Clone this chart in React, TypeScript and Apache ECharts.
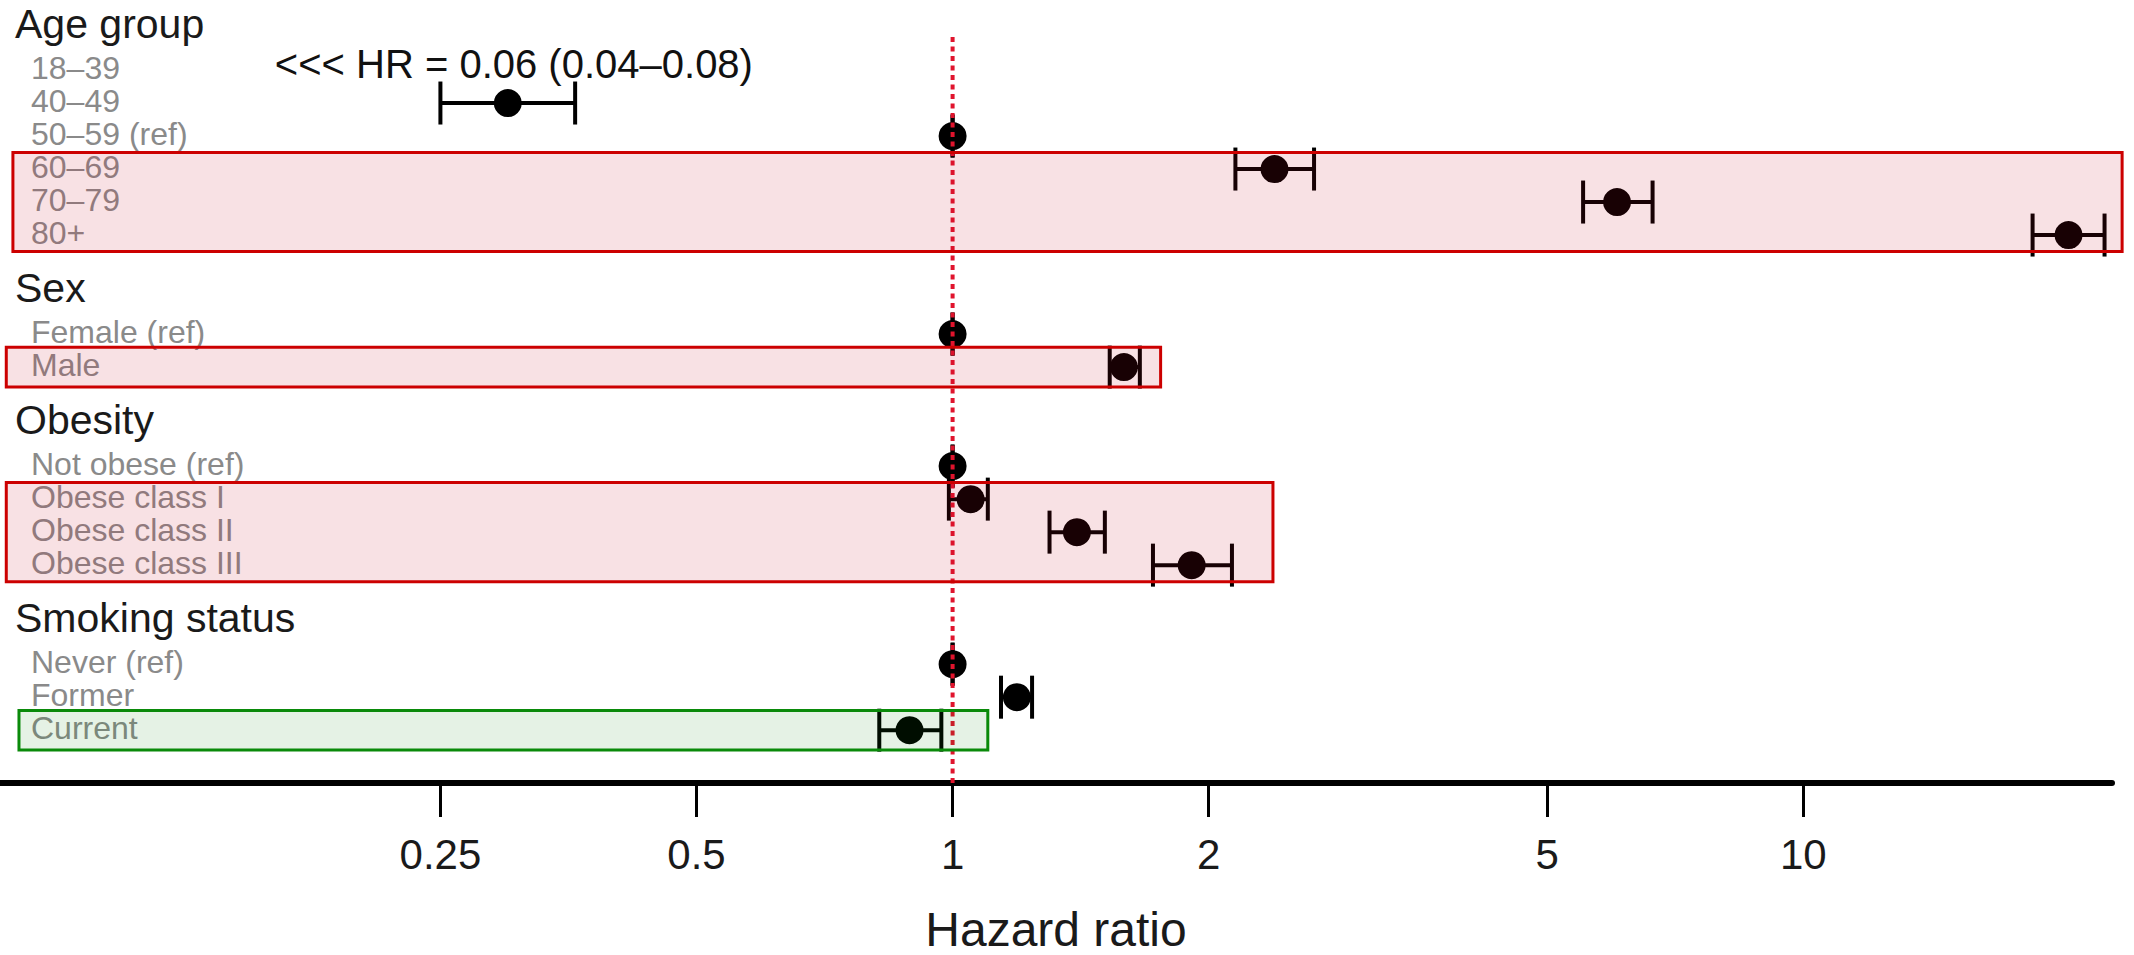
import React, { useEffect, useRef } from "react";
import * as echarts from "echarts";

// ---- Data ----
const groupHeaders = ["Age group", "Sex", "Obesity", "Smoking status"];
const headerRows = [-1.4, 6.6, 10.6, 16.6];

const categories = [
  "18–39", "40–49", "50–59 (ref)", "60–69", "70–79", "80+",
  "Female (ref)", "Male",
  "Not obese (ref)", "Obese class I", "Obese class II", "Obese class III",
  "Never (ref)", "Former", "Current",
];
const categoryRows = [0, 1, 2, 3, 4, 5, 8, 9, 12, 13, 14, 15, 18, 19, 20];

// hazard ratio estimates and 95% CI (null = off the scale, shown as text)
const hrEstimate = [null, 0.30, 1, 2.39, 6.04, 20.5, 1, 1.59, 1, 1.05, 1.40, 1.91, 1, 1.19, 0.89];
const hrLower = [null, 0.25, 1, 2.15, 5.51, 18.6, 1, 1.53, 1, 0.99, 1.30, 1.72, 1, 1.14, 0.82];
const hrUpper = [null, 0.36, 1, 2.66, 6.65, 22.6, 1, 1.66, 1, 1.10, 1.51, 2.13, 1, 1.24, 0.97];

const offscaleText = "<<< HR = 0.06 (0.04–0.08)";
const offscaleRow = 0;
const offscaleAnchorHR = 0.305;

const tickValues = [0.25, 0.5, 1, 2, 5, 10];
const tickLabels = ["0.25", "0.5", "1", "2", "5", "10"];
const axisRangeHR = [0.0759, 23.06];
const rowRange = [-2, 21.6];

const referenceHR = 1;
const referenceRows = [-1, 21.6];

// highlight boxes
const boxLowHR = [0.0786, 0.0772, 0.0772, 0.0799];
const boxHighHR = [23.7, 1.756, 2.38, 1.1];
const boxTopRow = [2.5, 8.4, 12.5, 19.4];
const boxBottomRow = [5.5, 9.6, 15.5, 20.6];
const boxKind = ["risk", "risk", "risk", "protective"];

const FONT = "'Liberation Sans', Arial, Helvetica, sans-serif";
const lg = (v: number) => Math.log10(v);

export default function App() {
  const ref = useRef<HTMLDivElement>(null);

  useEffect(() => {
    if (!ref.current) return;
    const chart = echarts.init(ref.current, undefined, { renderer: "svg" });

    const barData: number[][] = [];
    hrEstimate.forEach((v, i) => {
      if (v == null) return;
      barData.push([lg(v), lg(hrLower[i] as number), lg(hrUpper[i] as number), categoryRows[i]]);
    });

    const boxData = boxLowHR.map((lo, i) => [lg(lo), lg(boxHighHR[i]), boxTopRow[i], boxBottomRow[i]]);

    const option: any = {
      animation: false,
      backgroundColor: "#ffffff",
      grid: { left: 0, right: 22, top: 4, bottom: 172, outerBoundsMode: "none" },
      xAxis: {
        type: "value",
        min: lg(axisRangeHR[0]),
        max: lg(axisRangeHR[1]),
        splitLine: { show: false },
        axisLine: { show: true, onZero: false, lineStyle: { color: "#000", width: 6 } },
        axisTick: {
          show: true,
          customValues: tickValues.map(lg),
          length: 34,
          lineStyle: { color: "#000", width: 3 },
        },
        axisLabel: {
          customValues: tickValues.map(lg),
          formatter: (v: number) => {
            const idx = tickValues.findIndex((t) => Math.abs(lg(t) - v) < 1e-6);
            return idx >= 0 ? tickLabels[idx] : "";
          },
          fontSize: 42,
          color: "#1a1a1a",
          fontFamily: FONT,
          margin: 50,
        },
        name: "Hazard ratio",
        nameLocation: "middle",
        nameGap: 123,
        nameTextStyle: { fontSize: 48, lineHeight: 46, color: "#1a1a1a", fontFamily: FONT },
      },
      yAxis: {
        type: "value",
        inverse: true,
        min: rowRange[0],
        max: rowRange[1],
        show: false,
      },
      series: [
        // group headers
        {
          type: "custom",
          z: 1,
          silent: true,
          data: headerRows.map((r) => [0, r]),
          encode: { x: 0, y: 1 },
          renderItem: (params: any, api: any) => {
            const y = api.coord([0, api.value(1)])[1];
            return {
              type: "text",
              x: params.coordSys.x + 15,
              y,
              style: {
                text: groupHeaders[params.dataIndex],
                fontSize: 41,
                lineHeight: 40,
                fontFamily: FONT,
                fill: "#1a1a1a",
                align: "left",
                verticalAlign: "middle",
              },
            };
          },
        },
        // category labels
        {
          type: "custom",
          z: 1,
          silent: true,
          data: categoryRows.map((r) => [0, r]),
          encode: { x: 0, y: 1 },
          renderItem: (params: any, api: any) => {
            const y = api.coord([0, api.value(1)])[1];
            return {
              type: "text",
              x: params.coordSys.x + 31,
              y: y - 2,
              style: {
                text: categories[params.dataIndex],
                fontSize: 32,
                lineHeight: 31,
                fontFamily: FONT,
                fill: "#8a8a8a",
                align: "left",
                verticalAlign: "middle",
              },
            };
          },
        },
        // off-scale annotation
        {
          type: "custom",
          z: 1,
          silent: true,
          data: [[lg(offscaleAnchorHR), offscaleRow]],
          encode: { x: 0, y: 1 },
          renderItem: (params: any, api: any) => {
            const p = api.coord([api.value(0), api.value(1)]);
            return {
              type: "text",
              x: p[0],
              y: p[1] - 6,
              style: {
                text: offscaleText,
                fontSize: 40,
                lineHeight: 34,
                fontFamily: FONT,
                fill: "#111",
                align: "center",
                verticalAlign: "middle",
              },
            };
          },
        },
        // error bars + points
        {
          type: "custom",
          z: 2,
          silent: true,
          data: barData,
          encode: { x: [0, 1, 2], y: 3 },
          renderItem: (params: any, api: any) => {
            const row = api.value(3);
            const c = api.coord([api.value(0), row]);
            const lo = api.coord([api.value(1), row]);
            const hi = api.coord([api.value(2), row]);
            const half = 21.5;
            const ls = { stroke: "#000", lineWidth: 4 };
            return {
              type: "group",
              children: [
                { type: "line", shape: { x1: lo[0], y1: c[1], x2: hi[0], y2: c[1] }, style: ls },
                { type: "line", shape: { x1: lo[0], y1: c[1] - half, x2: lo[0], y2: c[1] + half }, style: ls },
                { type: "line", shape: { x1: hi[0], y1: c[1] - half, x2: hi[0], y2: c[1] + half }, style: ls },
                { type: "circle", shape: { cx: c[0], cy: c[1], r: 14 }, style: { fill: "#000" } },
              ],
            };
          },
        },
        // reference line at HR = 1
        {
          type: "custom",
          z: 3,
          silent: true,
          data: [[lg(referenceHR), referenceRows[0], referenceRows[1]]],
          encode: { x: 0, y: [1, 2] },
          renderItem: (params: any, api: any) => {
            const a = api.coord([api.value(0), api.value(1)]);
            const b = api.coord([api.value(0), api.value(2)]);
            return {
              type: "line",
              shape: { x1: a[0], y1: a[1], x2: b[0], y2: b[1] },
              style: { stroke: "#e0142d", lineWidth: 4, lineDash: [5, 4.5] },
            };
          },
        },
        // highlight boxes
        {
          type: "custom",
          z: 4,
          silent: true,
          clip: false,
          data: boxData,
          encode: { x: [0, 1], y: [2, 3] },
          renderItem: (params: any, api: any) => {
            const p1 = api.coord([api.value(0), api.value(2)]);
            const p2 = api.coord([api.value(1), api.value(3)]);
            const protective = boxKind[params.dataIndex] === "protective";
            return {
              type: "rect",
              shape: { x: p1[0], y: p1[1], width: p2[0] - p1[0], height: p2[1] - p1[1] },
              style: protective
                ? { fill: "rgba(0,128,0,0.10)", stroke: "#0a8a0a", lineWidth: 3 }
                : { fill: "rgba(200,10,30,0.12)", stroke: "#cc0000", lineWidth: 3 },
            };
          },
        },
      ],
    };

    chart.setOption(option);
    return () => chart.dispose();
  }, []);

  return (
    <div
      ref={ref}
      style={{ position: "fixed", left: 0, top: 0, width: 2134, height: 955, background: "#fff" }}
    />
  );
}
